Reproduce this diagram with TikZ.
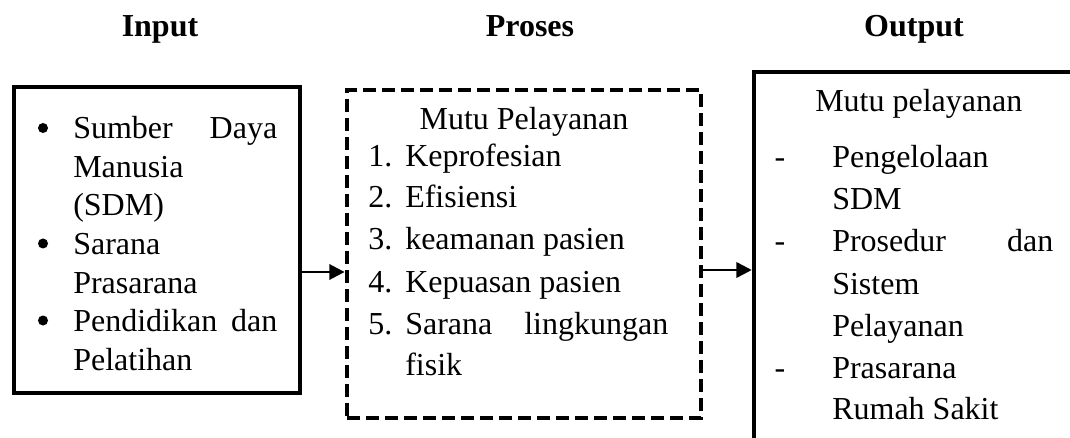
\documentclass[tikz,border=0pt]{standalone}
\usepackage{fontspec}
\setmainfont{Liberation Serif}
\usetikzlibrary{arrows.meta,fit}
\begin{document}
\begin{tikzpicture}[x=0.75pt,y=-0.75pt,
  font=\fontsize{24}{30}\selectfont,
  txt/.style={anchor=base west, inner sep=0},
  ctr/.style={anchor=base, inner sep=0},
  hdr/.style={anchor=base, inner sep=0, font=\fontsize{24}{30}\selectfont\bfseries},
  bul/.style={circle, fill, inner sep=0, minimum size=7.5pt},
  solidbox/.style={draw, line width=3.4pt, inner sep=0},
  dashbox/.style={draw, line width=3.6pt, inner sep=0, dash pattern=on 9.75pt off 4.5pt},
  arr/.style={-{Triangle[length=11.5pt,width=11.5pt]}, line width=2pt}]
\useasboundingbox (0,0) rectangle (1070,438);
% headers
\node[hdr] (hin) at (160,37) {Input};
\node[hdr] (hpr) at (530,37) {Proses};
\node[hdr] (hout) at (914,37) {Output};
% boxes
\coordinate (i1) at (14,87); \coordinate (i2) at (300,393);
\node[solidbox, fit=(i1)(i2)] (inp) {};
\coordinate (p1) at (347,90); \coordinate (p2) at (701,418);
\node[dashbox, fit=(p1)(p2)] (proc) {};
\coordinate (o1) at (754,72); \coordinate (o2) at (1094,440.3);
\node[solidbox, fit=(o1)(o2)] (out) {};
% left text
\node[bul] (b1) at (43,128) {};
\node[txt] (l1) at (73,139) {\hbox to 153pt{Sumber\hfill Daya}};
\node[txt] (l2) at (73,177.5) {Manusia};
\node[txt] (l3) at (73,216) {(SDM)};
\node[bul] (b2) at (43,243.5) {};
\node[txt] (l4) at (73,254.5) {Sarana};
\node[txt] (l5) at (73,293) {Prasarana};
\node[bul] (b3) at (43,320.5) {};
\node[txt] (l6) at (73,331.5) {\hbox to 153pt{Pendidikan\hfill dan}};
\node[txt] (l7) at (73,370) {Pelatihan};
% middle text
\node[ctr] (m0) at (524,130) {Mutu Pelayanan};
\node[txt] (n1) at (368,167) {1.};
\node[txt] (m1) at (405,167) {Keprofesian};
\node[txt] (n2) at (368,208) {2.};
\node[txt] (m2) at (405,208) {Efisiensi};
\node[txt] (n3) at (368,250) {3.};
\node[txt] (m3) at (405,250) {keamanan pasien};
\node[txt] (n4) at (368,292) {4.};
\node[txt] (m4) at (405,292) {Kepuasan pasien};
\node[txt] (n5) at (368,334) {5.};
\node[txt] (m5) at (405,334) {\hbox to 197.25pt{Sarana\hfill lingkungan}};
\node[txt] (m6) at (405,375) {fisik};
% right text
\node[txt] (r0) at (815,112) {Mutu pelayanan};
\node[ctr] (d1) at (780,168) {-};
\node[txt] (r1) at (832,168) {Pengelolaan};
\node[txt] (r2) at (832,210) {SDM};
\node[ctr] (d2) at (780,252) {-};
\node[txt] (r3) at (832,252) {\hbox to 165.75pt{Prosedur\hfill dan}};
\node[txt] (r4) at (832,294) {Sistem};
\node[txt] (r5) at (832,336) {Pelayanan};
\node[ctr] (d3) at (780,378) {-};
\node[txt] (r6) at (832,378) {Prasarana};
\node[txt] (r7) at (832,419) {Rumah Sakit};
% arrows
\coordinate (a1) at (0,272);
\coordinate (a2) at (0,270);
\draw[arr] (inp.east |- a1) -- (proc.west |- a1);
\draw[arr] (proc.east |- a2) -- (out.west |- a2);
\end{tikzpicture}
\end{document}
